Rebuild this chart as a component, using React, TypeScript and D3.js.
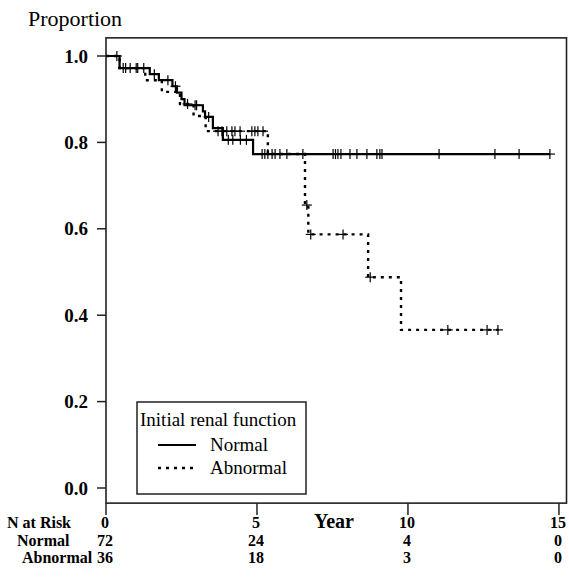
import React from 'react';
import * as d3 from 'd3';

const yTicks = [0, 0.2, 0.4, 0.6, 0.8, 1.0];
const xTicks = [0, 5, 10, 15];

const normalTimes = [0, 0.45, 1.45, 1.75, 2.2, 2.35, 2.5, 2.6, 3.21, 3.28, 3.54, 3.87, 4.87];
const normalSurv = [1.0, 0.972, 0.958, 0.944, 0.93, 0.915, 0.9, 0.886, 0.872, 0.859, 0.833, 0.806, 0.773];
const normalEnd = 14.7;
const normalCensor = [0.36, 0.57, 0.8, 1.05, 1.25, 1.6, 2.05, 2.3, 2.95, 3.0, 3.4, 4.05, 4.2, 4.45, 4.65,
  5.17, 5.26, 5.36, 5.5, 5.6, 5.76, 5.99, 6.52, 7.52, 7.6, 7.68, 7.78, 8.08, 8.31, 8.64, 8.97, 9.07, 9.14,
  11.03, 12.88, 13.68, 14.7];

const abnormalTimes = [0, 0.45, 1.3, 1.85, 2.45, 2.9, 3.3, 5.36, 6.59, 6.7, 8.68, 9.77];
const abnormalSurv = [1.0, 0.972, 0.944, 0.917, 0.889, 0.861, 0.826, 0.773, 0.655, 0.587, 0.488, 0.366];
const abnormalEnd = 13.0;
const abnormalCensor = [0.65, 1.0, 2.7, 3.71, 3.84, 4.0, 4.17, 4.27, 4.44, 4.83, 4.93, 5.03, 5.2,
  6.65, 6.78, 7.85, 8.75, 11.32, 12.62, 12.98];

const riskLabels = ['Normal', 'Abnormal'];
const riskNormal = [72, 24, 4, 0];
const riskAbnormal = [36, 18, 3, 0];

const legendTitle = 'Initial renal function';

const FONT = '"Liberation Serif", "Times New Roman", serif';

function stepValue(times: number[], surv: number[], t: number) {
  let v = surv[0];
  for (let i = 0; i < times.length; i++) {
    if (times[i] <= t) v = surv[i];
  }
  return v;
}

export default function App() {
  const x = d3.scaleLinear().domain([0, 15.25]).range([106, 566.5]);
  const y = d3.scaleLinear().domain([0, 1]).range([488, 56]);
  const yTop = y(1.042);
  const yBot = y(-0.035);

  const line = d3
    .line<[number, number]>()
    .x((d) => x(d[0]))
    .y((d) => y(d[1]))
    .curve(d3.curveStepAfter);

  const normalPts: [number, number][] = normalTimes.map((t, i) => [t, normalSurv[i]] as [number, number]);
  normalPts.push([normalEnd, normalSurv[normalSurv.length - 1]]);
  const abnormalPts: [number, number][] = abnormalTimes.map((t, i) => [t, abnormalSurv[i]] as [number, number]);
  abnormalPts.push([abnormalEnd, abnormalSurv[abnormalSurv.length - 1]]);

  const cs = 5;
  const plus = (t: number, s: number, key: string) => {
    const cx = x(t);
    const cy = y(s);
    return (
      <g key={key} stroke="#000" strokeWidth={1.2}>
        <line x1={cx - cs} x2={cx + cs} y1={cy} y2={cy} />
        <line x1={cx} x2={cx} y1={cy - cs} y2={cy + cs} />
      </g>
    );
  };

  return (
    <svg
      width={569}
      height={578}
      style={{ position: 'absolute', left: 0, top: 0, background: '#fff' }}
      fontFamily={FONT}
    >
      <rect x={0} y={0} width={569} height={578} fill="#fff" />
      <text x={28} y={26} fontSize={22}>Proportion</text>

      {/* plot frame */}
      <rect x={x(0)} y={yTop} width={x(15.25) - x(0)} height={yBot - yTop} fill="none" stroke="#222" strokeWidth={1.6} />

      {/* y axis ticks */}
      {yTicks.map((v) => (
        <g key={'y' + v}>
          <line x1={x(0) - 9} x2={x(0)} y1={y(v)} y2={y(v)} stroke="#222" strokeWidth={1.5} />
          <text x={88} y={y(v)} dy="0.35em" textAnchor="end" fontSize={19} fontWeight="bold">
            {v.toFixed(1)}
          </text>
        </g>
      ))}

      {/* x axis ticks */}
      {xTicks.map((v) => (
        <g key={'x' + v}>
          <line x1={x(v)} x2={x(v)} y1={yBot} y2={yBot + 12} stroke="#222" strokeWidth={1.5} />
          <text x={x(v) - 1} y={528} textAnchor="middle" fontSize={16} fontWeight="bold">
            {v}
          </text>
        </g>
      ))}
      <text x={334} y={528} textAnchor="middle" fontSize={20} fontWeight="bold">Year</text>

      {/* risk table */}
      <text x={7} y={528} fontSize={16} fontWeight="bold">N at Risk</text>
      <text x={17} y={546} fontSize={16} fontWeight="bold">{riskLabels[0]}</text>
      <text x={22} y={563} fontSize={16} fontWeight="bold">{riskLabels[1]}</text>
      {xTicks.map((v, i) => (
        <g key={'r' + v}>
          <text x={x(v) - 1} y={546} textAnchor="middle" fontSize={16} fontWeight="bold">{riskNormal[i]}</text>
          <text x={x(v) - 1} y={563} textAnchor="middle" fontSize={16} fontWeight="bold">{riskAbnormal[i]}</text>
        </g>
      ))}

      {/* curves */}
      <path d={line(abnormalPts) || ''} fill="none" stroke="#000" strokeWidth={2.4} strokeDasharray="3,5" />
      <path d={line(normalPts) || ''} fill="none" stroke="#000" strokeWidth={2.2} />
      {normalCensor.map((t, i) => plus(t, stepValue(normalTimes, normalSurv, t), 'nc' + i))}
      {abnormalCensor.map((t, i) => plus(t, stepValue(abnormalTimes, abnormalSurv, t), 'ac' + i))}

      {/* legend */}
      <rect x={137} y={402} width={169} height={92} fill="#fff" stroke="#222" strokeWidth={1.5} />
      <text x={140} y={426} fontSize={19}>{legendTitle}</text>
      <line x1={158} x2={196} y1={445} y2={445} stroke="#000" strokeWidth={2.2} />
      <text x={210} y={451} fontSize={19}>{riskLabels[0]}</text>
      <line x1={158} x2={196} y1={468} y2={468} stroke="#000" strokeWidth={2.4} strokeDasharray="3,5" />
      <text x={210} y={474} fontSize={19}>{riskLabels[1]}</text>
    </svg>
  );
}
